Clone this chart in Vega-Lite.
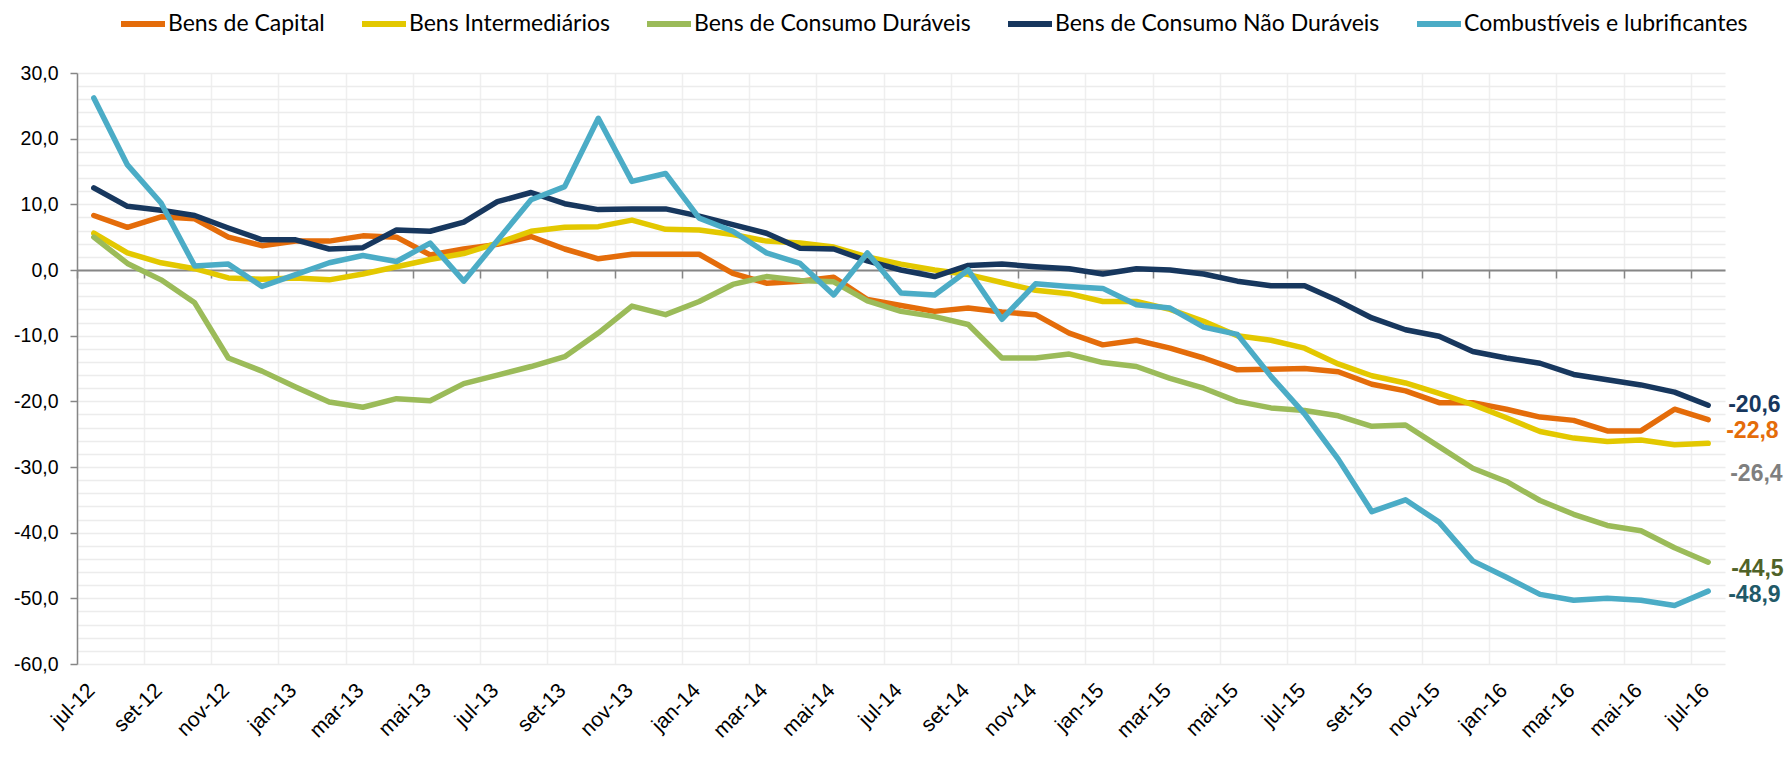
{
  "$schema": "https://vega.github.io/schema/vega-lite/v6.json",
  "width": 1648,
  "height": 591,
  "autosize": "none",
  "padding": {"left": 77, "top": 73, "right": 64, "bottom": 94},
  "background": "white",
  "config": {
    "view": {"stroke": null},
    "font": "Liberation Sans",
    "locale": {"number": {"decimal": ",", "thousands": ".", "grouping": [3], "currency": ["R$", ""], "minus": "-"}}
  },
  "data": {"values": [
    {"mes": "jul-12", "Bens de Capital": 8.3, "Bens Intermediários": 5.6, "Bens de Consumo Duráveis": 5.0, "Bens de Consumo Não Duráveis": 12.5, "Combustíveis e lubrificantes": 26.2},
    {"mes": "ago-12", "Bens de Capital": 6.5, "Bens Intermediários": 2.6, "Bens de Consumo Duráveis": 1.0, "Bens de Consumo Não Duráveis": 9.7, "Combustíveis e lubrificantes": 16.0},
    {"mes": "set-12", "Bens de Capital": 8.1, "Bens Intermediários": 1.1, "Bens de Consumo Duráveis": -1.5, "Bens de Consumo Não Duráveis": 9.1, "Combustíveis e lubrificantes": 10.2},
    {"mes": "out-12", "Bens de Capital": 7.8, "Bens Intermediários": 0.2, "Bens de Consumo Duráveis": -5.0, "Bens de Consumo Não Duráveis": 8.3, "Combustíveis e lubrificantes": 0.6},
    {"mes": "nov-12", "Bens de Capital": 5.0, "Bens Intermediários": -1.2, "Bens de Consumo Duráveis": -13.4, "Bens de Consumo Não Duráveis": 6.4, "Combustíveis e lubrificantes": 0.9},
    {"mes": "dez-12", "Bens de Capital": 3.7, "Bens Intermediários": -1.4, "Bens de Consumo Duráveis": -15.4, "Bens de Consumo Não Duráveis": 4.6, "Combustíveis e lubrificantes": -2.5},
    {"mes": "jan-13", "Bens de Capital": 4.4, "Bens Intermediários": -1.2, "Bens de Consumo Duráveis": -17.8, "Bens de Consumo Não Duráveis": 4.6, "Combustíveis e lubrificantes": -0.7},
    {"mes": "fev-13", "Bens de Capital": 4.4, "Bens Intermediários": -1.5, "Bens de Consumo Duráveis": -20.1, "Bens de Consumo Não Duráveis": 3.2, "Combustíveis e lubrificantes": 1.1},
    {"mes": "mar-13", "Bens de Capital": 5.2, "Bens Intermediários": -0.6, "Bens de Consumo Duráveis": -20.9, "Bens de Consumo Não Duráveis": 3.4, "Combustíveis e lubrificantes": 2.2},
    {"mes": "abr-13", "Bens de Capital": 5.0, "Bens Intermediários": 0.5, "Bens de Consumo Duráveis": -19.6, "Bens de Consumo Não Duráveis": 6.1, "Combustíveis e lubrificantes": 1.3},
    {"mes": "mai-13", "Bens de Capital": 2.3, "Bens Intermediários": 1.6, "Bens de Consumo Duráveis": -19.9, "Bens de Consumo Não Duráveis": 5.9, "Combustíveis e lubrificantes": 4.1},
    {"mes": "jun-13", "Bens de Capital": 3.2, "Bens Intermediários": 2.5, "Bens de Consumo Duráveis": -17.3, "Bens de Consumo Não Duráveis": 7.3, "Combustíveis e lubrificantes": -1.7},
    {"mes": "jul-13", "Bens de Capital": 3.9, "Bens Intermediários": 4.1, "Bens de Consumo Duráveis": -16.0, "Bens de Consumo Não Duráveis": 10.4, "Combustíveis e lubrificantes": 4.5},
    {"mes": "ago-13", "Bens de Capital": 5.1, "Bens Intermediários": 5.9, "Bens de Consumo Duráveis": -14.7, "Bens de Consumo Não Duráveis": 11.8, "Combustíveis e lubrificantes": 10.7},
    {"mes": "set-13", "Bens de Capital": 3.2, "Bens Intermediários": 6.5, "Bens de Consumo Duráveis": -13.2, "Bens de Consumo Não Duráveis": 10.1, "Combustíveis e lubrificantes": 12.7},
    {"mes": "out-13", "Bens de Capital": 1.7, "Bens Intermediários": 6.6, "Bens de Consumo Duráveis": -9.6, "Bens de Consumo Não Duráveis": 9.2, "Combustíveis e lubrificantes": 23.1},
    {"mes": "nov-13", "Bens de Capital": 2.4, "Bens Intermediários": 7.6, "Bens de Consumo Duráveis": -5.5, "Bens de Consumo Não Duráveis": 9.3, "Combustíveis e lubrificantes": 13.5},
    {"mes": "dez-13", "Bens de Capital": 2.4, "Bens Intermediários": 6.2, "Bens de Consumo Duráveis": -6.8, "Bens de Consumo Não Duráveis": 9.3, "Combustíveis e lubrificantes": 14.7},
    {"mes": "jan-14", "Bens de Capital": 2.4, "Bens Intermediários": 6.1, "Bens de Consumo Duráveis": -4.8, "Bens de Consumo Não Duráveis": 8.2, "Combustíveis e lubrificantes": 7.9},
    {"mes": "fev-14", "Bens de Capital": -0.5, "Bens Intermediários": 5.4, "Bens de Consumo Duráveis": -2.2, "Bens de Consumo Não Duráveis": 6.9, "Combustíveis e lubrificantes": 5.9},
    {"mes": "mar-14", "Bens de Capital": -2.0, "Bens Intermediários": 4.4, "Bens de Consumo Duráveis": -1.0, "Bens de Consumo Não Duráveis": 5.6, "Combustíveis e lubrificantes": 2.6},
    {"mes": "abr-14", "Bens de Capital": -1.7, "Bens Intermediários": 4.1, "Bens de Consumo Duráveis": -1.6, "Bens de Consumo Não Duráveis": 3.3, "Combustíveis e lubrificantes": 1.0},
    {"mes": "mai-14", "Bens de Capital": -1.1, "Bens Intermediários": 3.5, "Bens de Consumo Duráveis": -1.8, "Bens de Consumo Não Duráveis": 3.2, "Combustíveis e lubrificantes": -3.8},
    {"mes": "jun-14", "Bens de Capital": -4.5, "Bens Intermediários": 2.0, "Bens de Consumo Duráveis": -4.7, "Bens de Consumo Não Duráveis": 1.4, "Combustíveis e lubrificantes": 2.6},
    {"mes": "jul-14", "Bens de Capital": -5.4, "Bens Intermediários": 0.9, "Bens de Consumo Duráveis": -6.3, "Bens de Consumo Não Duráveis": 0.0, "Combustíveis e lubrificantes": -3.5},
    {"mes": "ago-14", "Bens de Capital": -6.3, "Bens Intermediários": 0.0, "Bens de Consumo Duráveis": -7.1, "Bens de Consumo Não Duráveis": -1.0, "Combustíveis e lubrificantes": -3.8},
    {"mes": "set-14", "Bens de Capital": -5.8, "Bens Intermediários": -0.7, "Bens de Consumo Duráveis": -8.3, "Bens de Consumo Não Duráveis": 0.7, "Combustíveis e lubrificantes": 0.0},
    {"mes": "out-14", "Bens de Capital": -6.4, "Bens Intermediários": -1.9, "Bens de Consumo Duráveis": -13.4, "Bens de Consumo Não Duráveis": 0.9, "Combustíveis e lubrificantes": -7.5},
    {"mes": "nov-14", "Bens de Capital": -6.8, "Bens Intermediários": -3.1, "Bens de Consumo Duráveis": -13.4, "Bens de Consumo Não Duráveis": 0.5, "Combustíveis e lubrificantes": -2.1},
    {"mes": "dez-14", "Bens de Capital": -9.6, "Bens Intermediários": -3.6, "Bens de Consumo Duráveis": -12.8, "Bens de Consumo Não Duráveis": 0.2, "Combustíveis e lubrificantes": -2.5},
    {"mes": "jan-15", "Bens de Capital": -11.4, "Bens Intermediários": -4.8, "Bens de Consumo Duráveis": -14.1, "Bens de Consumo Não Duráveis": -0.6, "Combustíveis e lubrificantes": -2.8},
    {"mes": "fev-15", "Bens de Capital": -10.7, "Bens Intermediários": -4.8, "Bens de Consumo Duráveis": -14.7, "Bens de Consumo Não Duráveis": 0.2, "Combustíveis e lubrificantes": -5.3},
    {"mes": "mar-15", "Bens de Capital": -11.9, "Bens Intermediários": -6.0, "Bens de Consumo Duráveis": -16.5, "Bens de Consumo Não Duráveis": 0.0, "Combustíveis e lubrificantes": -5.8},
    {"mes": "abr-15", "Bens de Capital": -13.4, "Bens Intermediários": -7.8, "Bens de Consumo Duráveis": -18.0, "Bens de Consumo Não Duráveis": -0.6, "Combustíveis e lubrificantes": -8.7},
    {"mes": "mai-15", "Bens de Capital": -15.2, "Bens Intermediários": -10.0, "Bens de Consumo Duráveis": -20.0, "Bens de Consumo Não Duráveis": -1.7, "Combustíveis e lubrificantes": -9.8},
    {"mes": "jun-15", "Bens de Capital": -15.1, "Bens Intermediários": -10.7, "Bens de Consumo Duráveis": -21.0, "Bens de Consumo Não Duráveis": -2.4, "Combustíveis e lubrificantes": -16.2},
    {"mes": "jul-15", "Bens de Capital": -15.0, "Bens Intermediários": -11.9, "Bens de Consumo Duráveis": -21.4, "Bens de Consumo Não Duráveis": -2.4, "Combustíveis e lubrificantes": -21.9},
    {"mes": "ago-15", "Bens de Capital": -15.5, "Bens Intermediários": -14.3, "Bens de Consumo Duráveis": -22.2, "Bens de Consumo Não Duráveis": -4.7, "Combustíveis e lubrificantes": -28.8},
    {"mes": "set-15", "Bens de Capital": -17.4, "Bens Intermediários": -16.1, "Bens de Consumo Duráveis": -23.8, "Bens de Consumo Não Duráveis": -7.3, "Combustíveis e lubrificantes": -36.8},
    {"mes": "out-15", "Bens de Capital": -18.4, "Bens Intermediários": -17.2, "Bens de Consumo Duráveis": -23.6, "Bens de Consumo Não Duráveis": -9.1, "Combustíveis e lubrificantes": -35.0},
    {"mes": "nov-15", "Bens de Capital": -20.2, "Bens Intermediários": -18.8, "Bens de Consumo Duráveis": -26.9, "Bens de Consumo Não Duráveis": -10.1, "Combustíveis e lubrificantes": -38.4},
    {"mes": "dez-15", "Bens de Capital": -20.2, "Bens Intermediários": -20.5, "Bens de Consumo Duráveis": -30.2, "Bens de Consumo Não Duráveis": -12.4, "Combustíveis e lubrificantes": -44.3},
    {"mes": "jan-16", "Bens de Capital": -21.2, "Bens Intermediários": -22.5, "Bens de Consumo Duráveis": -32.2, "Bens de Consumo Não Duráveis": -13.4, "Combustíveis e lubrificantes": -46.8},
    {"mes": "fev-16", "Bens de Capital": -22.4, "Bens Intermediários": -24.6, "Bens de Consumo Duráveis": -35.1, "Bens de Consumo Não Duráveis": -14.2, "Combustíveis e lubrificantes": -49.4},
    {"mes": "mar-16", "Bens de Capital": -22.9, "Bens Intermediários": -25.6, "Bens de Consumo Duráveis": -37.2, "Bens de Consumo Não Duráveis": -15.9, "Combustíveis e lubrificantes": -50.3},
    {"mes": "abr-16", "Bens de Capital": -24.5, "Bens Intermediários": -26.1, "Bens de Consumo Duráveis": -38.9, "Bens de Consumo Não Duráveis": -16.7, "Combustíveis e lubrificantes": -50.0},
    {"mes": "mai-16", "Bens de Capital": -24.5, "Bens Intermediários": -25.9, "Bens de Consumo Duráveis": -39.7, "Bens de Consumo Não Duráveis": -17.5, "Combustíveis e lubrificantes": -50.3},
    {"mes": "jun-16", "Bens de Capital": -21.2, "Bens Intermediários": -26.6, "Bens de Consumo Duráveis": -42.3, "Bens de Consumo Não Duráveis": -18.6, "Combustíveis e lubrificantes": -51.1},
    {"mes": "jul-16", "Bens de Capital": -22.8, "Bens Intermediários": -26.4, "Bens de Consumo Duráveis": -44.5, "Bens de Consumo Não Duráveis": -20.6, "Combustíveis e lubrificantes": -48.9}
  ]},
  "transform": [
    {"fold": ["Bens de Capital", "Bens Intermediários", "Bens de Consumo Duráveis", "Bens de Consumo Não Duráveis", "Combustíveis e lubrificantes"], "as": ["serie", "valor"]}
  ],
  "encoding": {
    "x": {
      "field": "mes", "type": "ordinal", "sort": null,
      "scale": {"type": "band", "paddingInner": 0, "paddingOuter": 0},
      "axis": {
        "title": null,
        "values": ["jul-12", "set-12", "nov-12", "jan-13", "mar-13", "mai-13", "jul-13", "set-13", "nov-13", "jan-14", "mar-14", "mai-14", "jul-14", "set-14", "nov-14", "jan-15", "mar-15", "mai-15", "jul-15", "set-15", "nov-15", "jan-16", "mar-16", "mai-16", "jul-16"],
        "bandPosition": 0,
        "offset": -394,
        "domainColor": "#868686", "domainWidth": 2,
        "tickColor": "#868686", "tickWidth": 1.5, "tickSize": 8,
        "grid": true, "gridColor": "#efefef", "gridWidth": 1.5,
        "labelAngle": -45, "labelAlign": "right", "labelBaseline": "middle",
        "labelOffset": -2, "labelPadding": 409,
        "labelFont": "Liberation Sans", "labelFontSize": 21, "labelColor": "#000000"
      }
    },
    "y": {
      "field": "valor", "type": "quantitative",
      "scale": {"domain": [-60, 30], "nice": false, "zero": false},
      "axis": {
        "title": null,
        "values": [-60, -58, -56, -54, -52, -50, -48, -46, -44, -42, -40, -38, -36, -34, -32, -30, -28, -26, -24, -22, -20, -18, -16, -14, -12, -10, -8, -6, -4, -2, 0, 2, 4, 6, 8, 10, 12, 14, 16, 18, 20, 22, 24, 26, 28, 30],
        "format": ".1f",
        "labelExpr": "datum.value % 10 === 0 ? datum.label : ''",
        "domainColor": "#868686", "domainWidth": 1.5,
        "tickColor": "#868686", "tickWidth": 1.5, "tickSize": 7,
        "tickOpacity": {"condition": {"test": "datum.value % 10 === 0", "value": 1}, "value": 0},
        "grid": true, "gridColor": "#ececec", "gridWidth": 1.5,
        "labelPadding": 12,
        "labelFont": "Liberation Sans", "labelFontSize": 19.5, "labelColor": "#000000"
      }
    }
  },
  "layer": [
    {
      "mark": {"type": "line", "strokeWidth": 5.5, "strokeCap": "round", "strokeJoin": "round"},
      "encoding": {
        "color": {
          "field": "serie", "type": "nominal",
          "scale": {
            "domain": ["Bens de Capital", "Bens Intermediários", "Bens de Consumo Duráveis", "Bens de Consumo Não Duráveis", "Combustíveis e lubrificantes"],
            "range": ["#E46C0A", "#E3C800", "#9BBB59", "#17375E", "#4BACC6"]
          },
          "legend": {
            "title": null, "orient": "none", "direction": "horizontal",
            "legendX": 41, "legendY": -74,
            "symbolType": "stroke", "symbolSize": 1936, "symbolStrokeWidth": 6,
            "labelFont": "Lato", "labelFontSize": 23, "labelColor": "#000000",
            "labelOffset": 0, "columnPadding": 25, "labelLimit": 400
          }
        }
      }
    },
    {
      "transform": [{"filter": "datum.mes === 'jul-16' && datum.serie === 'Bens de Consumo Não Duráveis'"}],
      "mark": {"type": "text", "align": "left", "baseline": "middle", "dx": 20, "dy": 0, "font": "Liberation Sans", "fontWeight": "bold", "fontSize": 23, "color": "#17375E"},
      "encoding": {"text": {"field": "valor", "type": "quantitative", "format": ".1f"}}
    },
    {
      "transform": [{"filter": "datum.mes === 'jul-16' && datum.serie === 'Bens de Capital'"}],
      "mark": {"type": "text", "align": "left", "baseline": "middle", "dx": 18, "dy": 11, "font": "Liberation Sans", "fontWeight": "bold", "fontSize": 23, "color": "#E46C0A"},
      "encoding": {"text": {"field": "valor", "type": "quantitative", "format": ".1f"}}
    },
    {
      "transform": [{"filter": "datum.mes === 'jul-16' && datum.serie === 'Bens Intermediários'"}],
      "mark": {"type": "text", "align": "left", "baseline": "middle", "dx": 22, "dy": 31, "font": "Liberation Sans", "fontWeight": "bold", "fontSize": 23, "color": "#7F7F7F"},
      "encoding": {"text": {"field": "valor", "type": "quantitative", "format": ".1f"}}
    },
    {
      "transform": [{"filter": "datum.mes === 'jul-16' && datum.serie === 'Bens de Consumo Duráveis'"}],
      "mark": {"type": "text", "align": "left", "baseline": "middle", "dx": 23, "dy": 7, "font": "Liberation Sans", "fontWeight": "bold", "fontSize": 23, "color": "#4F6228"},
      "encoding": {"text": {"field": "valor", "type": "quantitative", "format": ".1f"}}
    },
    {
      "transform": [{"filter": "datum.mes === 'jul-16' && datum.serie === 'Combustíveis e lubrificantes'"}],
      "mark": {"type": "text", "align": "left", "baseline": "middle", "dx": 20, "dy": 4, "font": "Liberation Sans", "fontWeight": "bold", "fontSize": 23, "color": "#215968"},
      "encoding": {"text": {"field": "valor", "type": "quantitative", "format": ".1f"}}
    }
  ]
}
